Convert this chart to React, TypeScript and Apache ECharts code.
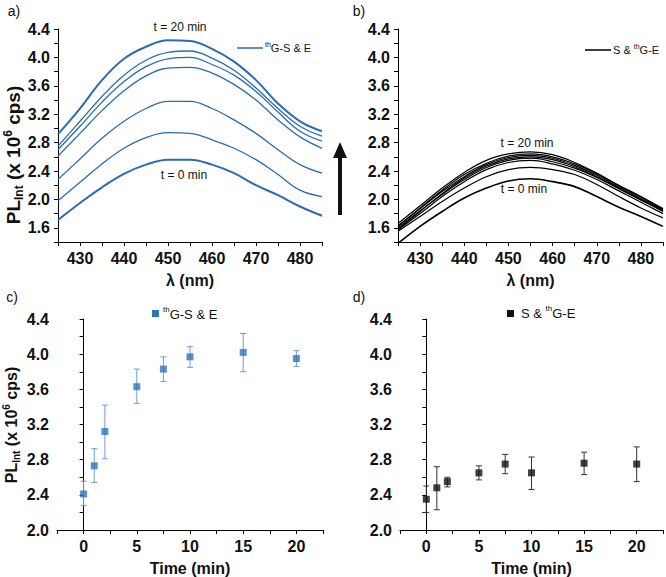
import React, { useEffect, useRef } from "react";
import * as echarts from "echarts";

const wavelengths = [425, 430, 435, 440, 445, 450, 455, 460, 465, 470, 475, 480, 485];

// Panel a: thG-S & E spectra (x 10^6 cps), from t = 0 (first) to t = 20 min (last)
const specA_t0 = [1.71, 1.95, 2.17, 2.36, 2.49, 2.56, 2.56, 2.49, 2.37, 2.2, 2.06, 1.9, 1.77];
const specA_t1 = [1.98, 2.24, 2.5, 2.72, 2.87, 2.94, 2.93, 2.84, 2.72, 2.56, 2.35, 2.13, 2.04];
const specA_t2 = [2.28, 2.57, 2.86, 3.1, 3.28, 3.38, 3.38, 3.28, 3.12, 2.93, 2.7, 2.49, 2.37];
const specA_t3 = [2.61, 2.93, 3.25, 3.53, 3.74, 3.85, 3.86, 3.78, 3.62, 3.4, 3.12, 2.88, 2.72];
const specA_t4 = [2.7, 3.03, 3.37, 3.66, 3.87, 3.98, 4.0, 3.9, 3.75, 3.52, 3.23, 2.96, 2.82];
const specA_t5 = [2.75, 3.1, 3.45, 3.75, 3.96, 4.07, 4.09, 3.99, 3.82, 3.57, 3.28, 3.03, 2.89];
const specA_t6 = [2.92, 3.28, 3.68, 3.98, 4.15, 4.24, 4.23, 4.12, 3.94, 3.68, 3.35, 3.1, 2.96];

// Panel b: S & thG-E spectra
const specB_t0 = [1.38, 1.62, 1.83, 2.02, 2.16, 2.26, 2.29, 2.25, 2.18, 2.04, 1.89, 1.76, 1.62];
const specB_t1 = [1.55, 1.76, 1.97, 2.16, 2.32, 2.42, 2.45, 2.42, 2.35, 2.21, 2.04, 1.88, 1.74];
const specB_t2 = [1.57, 1.8, 2.04, 2.25, 2.42, 2.52, 2.55, 2.5, 2.41, 2.28, 2.12, 1.96, 1.8];
const specB_t3 = [1.6, 1.84, 2.07, 2.28, 2.45, 2.55, 2.58, 2.53, 2.44, 2.31, 2.15, 1.99, 1.83];
const specB_t4 = [1.58, 1.83, 2.08, 2.3, 2.47, 2.57, 2.6, 2.56, 2.46, 2.32, 2.16, 2.0, 1.84];
const specB_t5 = [1.63, 1.87, 2.11, 2.32, 2.49, 2.59, 2.62, 2.58, 2.48, 2.34, 2.17, 2.01, 1.85];
const specB_t6 = [1.62, 1.88, 2.13, 2.35, 2.51, 2.61, 2.64, 2.6, 2.5, 2.36, 2.19, 2.03, 1.86];
const specB_t7 = [1.66, 1.91, 2.16, 2.38, 2.55, 2.64, 2.67, 2.63, 2.52, 2.37, 2.2, 2.04, 1.87];

// Panels c and d: integrated PL vs time
const times = [0, 1, 2, 5, 7.5, 10, 15, 20];
const plC = [2.41, 2.73, 3.12, 3.63, 3.83, 3.97, 4.02, 3.95];
const plC_hi = [2.555, 2.925, 3.42, 3.83, 3.97, 4.085, 4.235, 4.04];
const plC_lo = [2.28, 2.54, 2.81, 3.44, 3.69, 3.85, 3.8, 3.86];
const plD = [2.35, 2.48, 2.55, 2.65, 2.75, 2.65, 2.76, 2.75];
const plD_hi = [2.5, 2.72, 2.6, 2.73, 2.86, 2.83, 2.885, 2.945];
const plD_lo = [2.2, 2.23, 2.49, 2.57, 2.64, 2.46, 2.63, 2.55];

const FONT = "'Liberation Sans', Arial, sans-serif";
const BLUE = "#2a6bb3";
const BLUE_MARK = "#2f74bd";
const BLUE_ERR = "#6a9fd6";

const yLabelFmt = (v: number) => (Math.round(v * 10) % 4 === 0 ? v.toFixed(1) : "");

function App() {
  const ref = useRef<HTMLDivElement>(null);
  useEffect(() => {
    if (!ref.current) return;
    const chart = echarts.init(ref.current, null, { renderer: "svg" });

    const axisLine = { show: true, lineStyle: { color: "#000", width: 1 } };
    const axisTick = { show: true, length: 4, lineStyle: { color: "#000" } };
    const axisLabel = { color: "#111", fontSize: 16, fontWeight: "bold" as const, fontFamily: FONT, margin: 8 };

    const specX = (idx: number) => ({
      type: "value" as const,
      gridIndex: idx,
      min: 425,
      max: 485,
      interval: 5,
      axisLine,
      axisTick,
      splitLine: { show: false },
      axisLabel: { ...axisLabel, formatter: (v: number) => (Math.round(v) % 10 === 0 ? String(v) : "") },
      name: "λ (nm)",
      nameLocation: "middle" as const,
      nameGap: 30,
      nameTextStyle: { color: "#111", fontSize: 16, fontWeight: "bold" as const, fontFamily: FONT },
    });
    const timeX = (idx: number) => ({
      type: "value" as const,
      gridIndex: idx,
      min: -2.5,
      max: 22.5,
      interval: 2.5,
      axisLine,
      axisTick,
      splitLine: { show: false },
      axisLabel: { ...axisLabel, formatter: (v: number) => (Math.abs(v % 5) < 1e-6 ? String(v) : "") },
      name: "Time (min)",
      nameLocation: "middle" as const,
      nameGap: 30,
      nameTextStyle: { color: "#111", fontSize: 16, fontWeight: "bold" as const, fontFamily: FONT },
    });
    const yAx = (idx: number, min: number) => ({
      type: "value" as const,
      gridIndex: idx,
      min,
      max: 4.4,
      interval: 0.2,
      axisLine,
      axisTick,
      splitLine: { show: false },
      axisLabel: { ...axisLabel, formatter: yLabelFmt },
    });

    const lineSeries = (data: number[], axis: number, color: string, width: number) => ({
      type: "line" as const,
      xAxisIndex: axis,
      yAxisIndex: axis,
      data: wavelengths.map((w, i) => [w, data[i]]),
      showSymbol: false,
      smooth: 0.4,
      clip: true,
      lineStyle: { color, width },
      silent: true,
    });

    const errSeries = (axis: number, lo: number[], hi: number[], color: string) => ({
      type: "custom" as const,
      xAxisIndex: axis,
      yAxisIndex: axis,
      silent: true,
      data: times.map((t, i) => [t, lo[i], hi[i]]),
      encode: { x: 0, y: [1, 2] },
      renderItem: (params: any, api: any) => {
        const x = api.value(0);
        const p1 = api.coord([x, api.value(1)]);
        const p2 = api.coord([x, api.value(2)]);
        const w = 3;
        const st = { stroke: color, lineWidth: 1 };
        return {
          type: "group",
          children: [
            { type: "line", shape: { x1: p1[0], y1: p1[1], x2: p2[0], y2: p2[1] }, style: st },
            { type: "line", shape: { x1: p1[0] - w, y1: p1[1], x2: p1[0] + w, y2: p1[1] }, style: st },
            { type: "line", shape: { x1: p2[0] - w, y1: p2[1], x2: p2[0] + w, y2: p2[1] }, style: st },
          ],
        };
      },
    });

    const scatter = (axis: number, vals: number[], color: string) => ({
      type: "scatter" as const,
      xAxisIndex: axis,
      yAxisIndex: axis,
      symbol: "rect",
      symbolSize: 7,
      silent: true,
      itemStyle: { color },
      data: times.map((t, i) => [t, vals[i]]),
      z: 5,
    });

    const txt = (x: number, y: number, text: string, fontSize: number, extra: any = {}) => ({
      type: "text",
      x,
      y,
      silent: true,
      style: { text, fontSize, fontFamily: FONT, fill: "#111", align: "center", verticalAlign: "middle", ...extra },
    });

    const yTitle = (x: number, y: number, fs: number) => ({
      type: "text",
      x,
      y,
      rotation: Math.PI / 2,
      silent: true,
      style: {
        text: "{m|PL}{sub|Int}{m| (x 10}{sup|6}{m| cps)}",
        align: "center",
        verticalAlign: "middle",
        fill: "#111",
        rich: {
          m: { fontSize: fs, fontWeight: "bold", fontFamily: FONT, fill: "#111", lineHeight: fs + 4 },
          sub: { fontSize: Math.round(fs * 0.62), fontWeight: "bold", fontFamily: FONT, fill: "#111", verticalAlign: "bottom", lineHeight: 12 },
          sup: { fontSize: Math.round(fs * 0.62), fontWeight: "bold", fontFamily: FONT, fill: "#111", verticalAlign: "top", lineHeight: 12 },
        },
      },
    });

    const legendText = (x: number, y: number, text: string, fontSize: number) => ({
      type: "text",
      x,
      y,
      silent: true,
      style: {
        text,
        align: "left",
        verticalAlign: "middle",
        fill: "#111",
        rich: {
          m: { fontSize, fontFamily: FONT, fill: "#111", lineHeight: fontSize + 4 },
          sup: { fontSize: Math.round(fontSize * 0.6), fontFamily: FONT, fill: "#111", verticalAlign: "top", lineHeight: 8 },
        },
      },
    });

    chart.setOption({
      animation: false,
      grid: [
        { left: 58, top: 29, width: 264, height: 213 },
        { left: 398, top: 29, width: 265, height: 213 },
        { left: 57, top: 319, width: 266, height: 213 },
        { left: 400, top: 319, width: 266, height: 213 },
      ],
      xAxis: [specX(0), specX(1), timeX(2), timeX(3)],
      yAxis: [yAx(0, 1.4), yAx(1, 1.4), yAx(2, 2.0), yAx(3, 2.0)],
      series: [
        lineSeries(specA_t0, 0, BLUE, 2),
        lineSeries(specA_t1, 0, BLUE, 1.3),
        lineSeries(specA_t2, 0, BLUE, 1.3),
        lineSeries(specA_t3, 0, BLUE, 1.3),
        lineSeries(specA_t4, 0, BLUE, 1.3),
        lineSeries(specA_t5, 0, BLUE, 1.3),
        lineSeries(specA_t6, 0, BLUE, 2),
        lineSeries(specB_t0, 1, "#000", 1.6),
        lineSeries(specB_t1, 1, "#000", 1.2),
        lineSeries(specB_t2, 1, "#000", 1.2),
        lineSeries(specB_t3, 1, "#000", 1.2),
        lineSeries(specB_t4, 1, "#000", 1.2),
        lineSeries(specB_t5, 1, "#000", 1.2),
        lineSeries(specB_t6, 1, "#000", 1.2),
        lineSeries(specB_t7, 1, "#000", 1.2),
        errSeries(2, plC_lo, plC_hi, BLUE_ERR),
        scatter(2, plC, BLUE_MARK),
        errSeries(3, plD_lo, plD_hi, "#333"),
        scatter(3, plD, "#111"),
      ],
      graphic: [
        txt(14, 11, "a)", 14),
        txt(359, 11, "b)", 14),
        txt(12, 297, "c)", 14),
        txt(359, 297, "d)", 14),
        yTitle(13, 155, 19),
        yTitle(11, 425, 16),
        txt(180, 27, "t = 20 min", 12),
        txt(184, 175, "t = 0 min", 12),
        txt(527, 143, "t = 20 min", 12),
        txt(524, 189, "t = 0 min", 12),
        // legends
        { type: "line", silent: true, shape: { x1: 237, y1: 48, x2: 263, y2: 48 }, style: { stroke: BLUE, lineWidth: 1.5 } },
        legendText(265, 48, "{sup|th}{m|G-S & E}", 11),
        { type: "line", silent: true, shape: { x1: 585, y1: 50, x2: 611, y2: 50 }, style: { stroke: "#000", lineWidth: 1.5 } },
        legendText(613, 50, "{m|S & }{sup|th}{m|G-E}", 11),
        { type: "rect", silent: true, shape: { x: 152, y: 310, width: 7, height: 7 }, style: { fill: BLUE_MARK } },
        legendText(163, 314, "{sup|th}{m|G-S & E}", 13),
        { type: "rect", silent: true, shape: { x: 507, y: 310, width: 7, height: 7 }, style: { fill: "#111" } },
        legendText(521, 313, "{m|S & }{sup|th}{m|G-E}", 13),
        // arrow
        { type: "rect", silent: true, shape: { x: 338, y: 156, width: 4, height: 59 }, style: { fill: "#111" } },
        { type: "polygon", silent: true, shape: { points: [[333, 158], [347, 158], [340, 142]] }, style: { fill: "#111" } },
      ],
    });
    return () => chart.dispose();
  }, []);
  return <div ref={ref} style={{ position: "absolute", left: 0, top: 0, width: 666, height: 577 }} />;
}

export default App;
